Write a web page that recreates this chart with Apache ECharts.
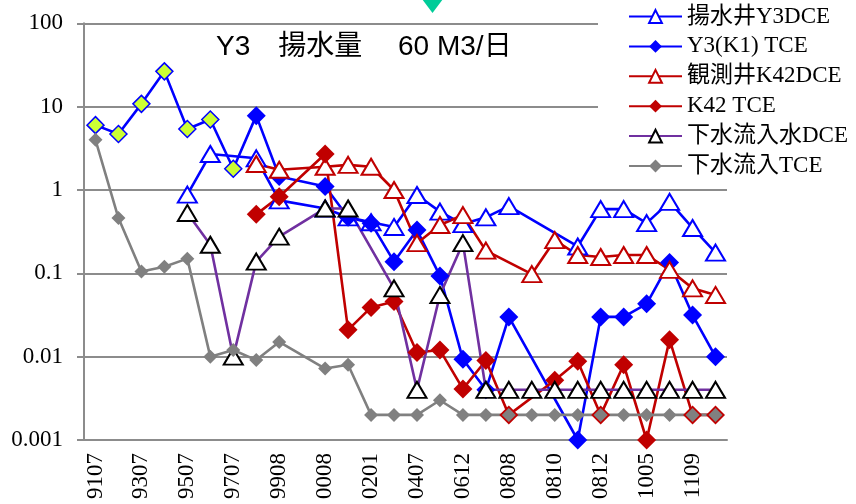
<!DOCTYPE html>
<html>
<head>
<meta charset="utf-8">
<script src="https://cdn.jsdelivr.net/npm/echarts@6/dist/echarts.min.js"></script>
<style>
  html, body { margin: 0; padding: 0; background: #fff; }
  #chart { width: 856px; height: 504px; }
</style>
</head>
<body>
<div id="chart"></div>
<script>
// Sampling dates (YYMM); every other one is labelled on the axis
const months = [
  '9107', '9201', '9307', '9401', '9507', '9601', '9707', '9803',
  '9908', '0002', '0008', '0107', '0201', '0301', '0407', '0512',
  '0612', '0712', '0808', '0809', '0810', '0811', '0812', '0906',
  '1005', '1011', '1109', '1203'
];

// Concentrations (mg/L); null = not measured
const y3Dce = [
  null, null, null, null, 0.88, 2.7, null, 2.4,
  0.75, null, 0.6, 0.47, 0.41, 0.36, 0.87, 0.55,
  0.39, 0.47, 0.64, null, null, 0.21, 0.59, 0.59,
  0.40, 0.72, 0.35, 0.177
];
const y3Tce = [
  6.0, 4.7, 10.8, 26.5, 5.4, 7.0, 1.8, 7.8,
  1.45, null, 1.1, 0.47, 0.40, 0.138, 0.33, 0.093,
  0.0093, 0.004, 0.030, null, null, 0.001, 0.030, 0.030,
  0.043, 0.135, 0.0316, 0.010
];
const k42Dce = [
  null, null, null, null, null, null, null, 2.05,
  1.75, null, 1.9, 2.0, 1.9, 1.0, 0.23, 0.38,
  0.5, 0.187, null, 0.098, 0.25, 0.166, 0.157, 0.166,
  0.166, 0.11, 0.066, 0.055
];
const k42Tce = [
  null, null, null, null, null, null, null, 0.51,
  0.83, null, 2.7, 0.021, 0.039, 0.046, 0.0112, 0.012,
  0.0041, 0.009, 0.002, null, 0.0052, 0.0088, 0.002, 0.008,
  0.001, 0.016, 0.002, 0.002
];
const sewerDce = [
  null, null, null, null, 0.53, 0.22, 0.01, 0.138,
  0.275, null, 0.6, 0.6, null, 0.066, 0.004, 0.055,
  0.23, 0.004, 0.004, 0.004, 0.004, 0.004, 0.004, 0.004,
  0.004, 0.004, 0.004, 0.004
];
const sewerTce = [
  4.0, 0.46, 0.105, 0.12, 0.15, 0.01, 0.012, 0.0091,
  0.015, null, 0.0072, 0.008, 0.002, 0.002, 0.002, 0.003,
  0.002, 0.002, 0.002, 0.002, 0.002, 0.002, 0.002, 0.002,
  0.002, 0.002, 0.002, 0.002
];
// The earliest pumping-well TCE results are highlighted
const highlightedCount = 7;

const yTicks = ['0.001', '0.01', '0.1', '1', '10', '100'];

const names = ['揚水井Y3DCE', 'Y3(K1) TCE', '観測井K42DCE', 'K42 TCE', '下水流入水DCE', '下水流入TCE'];

const BLUE = '#0000FF', RED = '#C00000', PURPLE = '#7030A0', GRAY = '#808080';
const GRID = '#8C8C8C';
const SERIF = "'Liberation Serif', 'Noto Sans CJK JP', serif";
const SANS = "'Liberation Sans', 'Noto Sans CJK JP', sans-serif";
const LINE_W = 2.6;

function openTriangle(name, data, lineColor, edgeColor) {
  return {
    name, type: 'line', data, connectNulls: true, showAllSymbol: true,
    symbol: 'triangle', symbolSize: [19, 16],
    lineStyle: { color: lineColor, width: LINE_W },
    itemStyle: { color: '#FFFFFF', borderColor: edgeColor, borderWidth: 2 },
    emphasis: { disabled: true }
  };
}
function diamond(name, data, color, size) {
  return {
    name, type: 'line', data, connectNulls: true, showAllSymbol: true,
    symbol: 'diamond', symbolSize: size,
    lineStyle: { color, width: LINE_W },
    itemStyle: { color, borderWidth: 0 },
    emphasis: { disabled: true }
  };
}

const y3TceData = y3Tce.map((v, i) => i < highlightedCount
  ? { value: v, symbolSize: 17, itemStyle: { color: '#CCFF33', borderColor: BLUE, borderWidth: 1.5 } }
  : v);

const chart = echarts.init(document.getElementById('chart'), null, { renderer: 'canvas' });
chart.setOption({
  animation: false,
  backgroundColor: '#FFFFFF',
  title: {
    text: 'Y3\u3000揚水量\u3000 60 M3/日',
    left: 216, top: 33, padding: 0,
    textStyle: { fontFamily: SANS, fontSize: 28, fontWeight: 'normal', color: '#000' }
  },
  legend: {
    data: names,
    orient: 'vertical', left: 598, top: 0,
    padding: [5, 4, 8, 30],
    backgroundColor: '#FFFFFF',
    itemWidth: 53, itemHeight: 16, itemGap: 6.9,
    textStyle: { fontFamily: SERIF, fontSize: 23, color: '#000', lineHeight: 20 },
    selectedMode: false
  },
  graphic: [{
    type: 'polygon', silent: true,
    shape: { points: [[419, -5], [446, -5], [432.5, 13]] },
    style: { fill: '#00CC99' }
  }],
  grid: { left: 84, right: 129, top: 23.3, bottom: 64, outerBoundsMode: 'none' },
  xAxis: {
    type: 'category', data: months, boundaryGap: true,
    axisLine: { onZero: false, lineStyle: { color: GRID, width: 2 } },
    axisTick: { interval: 0, length: 7, lineStyle: { color: GRID, width: 2 } },
    axisLabel: {
      interval: 1, rotate: 90, margin: 13,
      fontFamily: SERIF, fontSize: 23, color: '#000'
    },
    splitLine: { show: false }
  },
  yAxis: {
    type: 'log', logBase: 10, min: 0.001, max: 100,
    axisLine: { show: true, lineStyle: { color: GRID, width: 2 } },
    axisTick: { show: true, length: 7, lineStyle: { color: GRID, width: 2 } },
    splitLine: { show: true, lineStyle: { color: GRID, width: 2 } },
    axisLabel: {
      margin: 21, fontFamily: SERIF, fontSize: 23, color: '#000',
      formatter: v => yTicks[Math.round(Math.log10(v)) + 3]
    }
  },
  series: [
    openTriangle(names[0], y3Dce, BLUE, BLUE),
    diamond(names[1], y3TceData, BLUE, 19),
    openTriangle(names[2], k42Dce, RED, RED),
    diamond(names[3], k42Tce, RED, 19),
    openTriangle(names[4], sewerDce, PURPLE, '#000000'),
    diamond(names[5], sewerTce, GRAY, 14)
  ]
});
</script>
</body>
</html>
